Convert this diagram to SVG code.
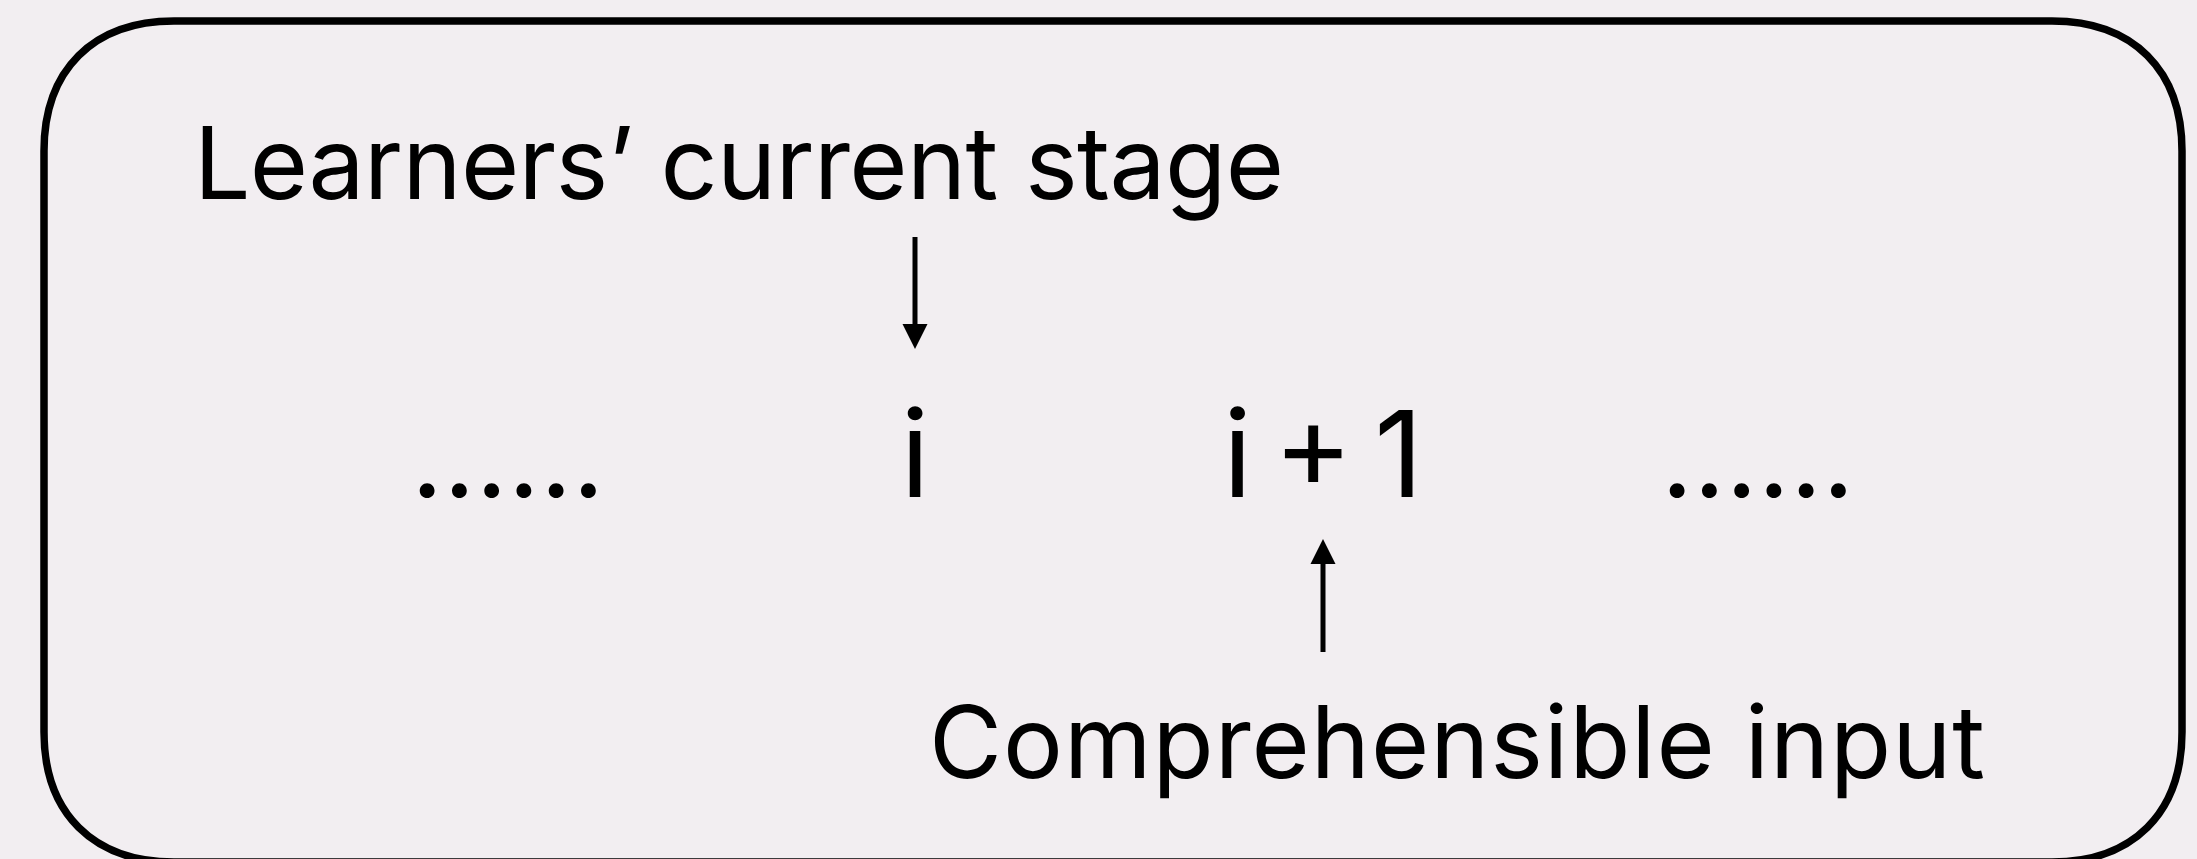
<svg xmlns="http://www.w3.org/2000/svg" width="2197" height="859" viewBox="0 0 2197 859">
  <defs>
    <style>
      .lbl { font-family: Inter, "Liberation Sans", Arial, sans-serif; fill: #000; }
      .big { font-size: 100px; }
      .mid { font-size: 120px; }
      .dots { font-size: 112px; }
      .conn { stroke: #000; stroke-width: 5; fill: none; }
    </style>
    <marker id="ah" markerUnits="userSpaceOnUse" markerWidth="26" markerHeight="26" viewBox="0 0 26 26" refX="0" refY="13" orient="auto">
      <path d="M0,0.5 L25,13 L0,25.5 Z" fill="#000"/>
    </marker>
  </defs>
  <rect x="0" y="0" width="2197" height="859" fill="#f2eef1"/>
  <g id="frame">
    <path d="M44,151 L44,732 C44,813 93,862 174,862 L2052,862 C2133,862 2182,813 2182,732 L2182,151 C2182,70 2133,21 2052,21 L174,21 C93,21 44,70 44,151 Z" fill="none" stroke="#000" stroke-width="7.5"/>
  </g>
  <g id="node-current-stage">
    <text class="lbl big" x="194" y="199" textLength="1090" lengthAdjust="spacing">Learners’ current stage</text>
  </g>
  <g id="node-dots-left">
    <text class="lbl dots" x="411" y="497">……</text>
  </g>
  <g id="node-i">
    <text class="lbl mid" x="915" y="497" text-anchor="middle">i</text>
  </g>
  <g id="node-i-plus-1">
    <text class="lbl mid" x="1223" y="497" textLength="200" lengthAdjust="spacing">i + 1</text>
  </g>
  <g id="node-dots-right">
    <text class="lbl dots" x="1661" y="497">……</text>
  </g>
  <g id="node-comprehensible-input">
    <text class="lbl big" x="929" y="778" textLength="1056" lengthAdjust="spacing">Comprehensible input</text>
  </g>
  <g id="connectors">
    <line class="conn" x1="915" y1="237" x2="915" y2="324" marker-end="url(#ah)"/>
    <line class="conn" x1="1323" y1="652" x2="1323" y2="564" marker-end="url(#ah)"/>
  </g>
</svg>
